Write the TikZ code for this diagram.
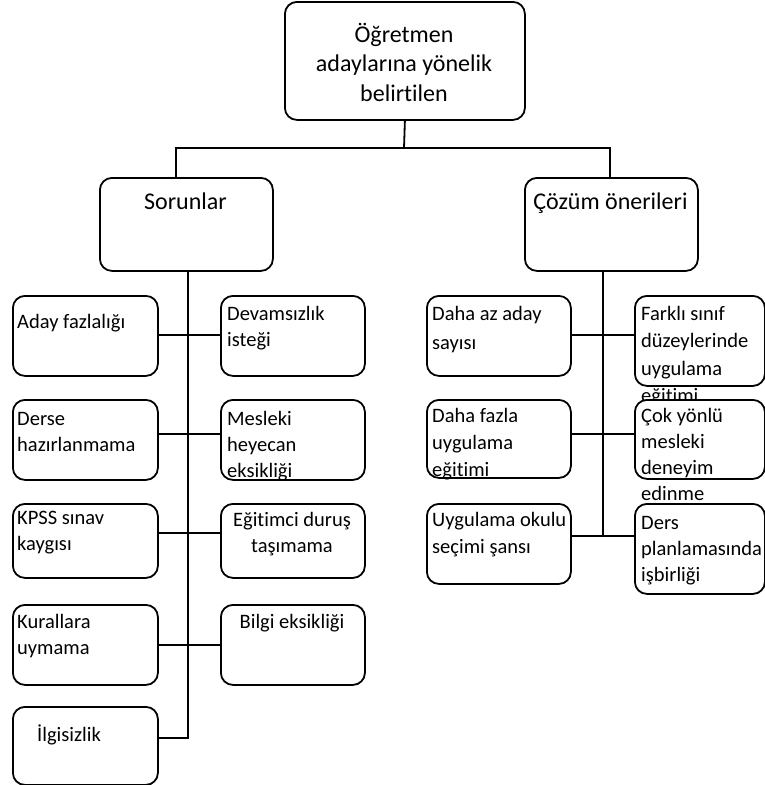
\documentclass[tikz,border=0pt]{standalone}
\usepackage{fontspec}
\setmainfont{Carlito}[Ligatures=CommonOff]

\begin{document}
\begin{tikzpicture}[x=1pt, y=-1pt,
		kutu/.style={draw, line width=1.8pt, rounded corners=12pt, fill=white, anchor=north west, inner sep=0pt},
		yazi/.style={anchor=base west, inner sep=0pt, text width=160pt, align=flush left, font=\fontsize{20.5pt}{26pt}\selectfont},
		sagyazi/.style={yazi, font=\fontsize{20.5pt}{27pt}\selectfont},
		ortayazi/.style={anchor=base, inner sep=0pt, text width=140pt, align=flush center, font=\fontsize{20.5pt}{26pt}\selectfont},
		baslik/.style={anchor=base, inner sep=0pt, text width=230pt, align=flush center, font=\fontsize{24pt}{29.5pt}\selectfont},
		cizgi/.style={line width=1.8pt}
	]
	\useasboundingbox (0,0) rectangle (765,785);

	%Ana kutu
		\node[kutu, minimum width=240pt, minimum height=118pt] (ana) at (284,1) {};
		\node[baslik] (anayazi) at (404,42) {Öğretmen\\adaylarına yönelik\\belirtilen};

	%Sorunlar ve çözüm önerileri
		\node[kutu, minimum width=173pt, minimum height=93pt] (sorun) at (99,177) {};
		\node[baslik] (sorunyazi) at (185.5,209) {Sorunlar};
		\node[kutu, minimum width=173pt, minimum height=93pt] (cozum) at (524,177) {};
		\node[baslik] (cozumyazi) at (610.5,209) {Çözüm önerileri};

	%Sorunlar
		\node[kutu, minimum width=145pt, minimum height=80pt] (aday) at (12,295) {};
		\node[yazi] (adayyazi) at (17,328) {Aday fazlalığı};
		\node[kutu, minimum width=144pt, minimum height=80pt] (devam) at (220,295) {};
		\node[yazi] (devamyazi) at (227,320) {Devamsızlık\\isteği};
		\node[kutu, minimum width=145pt, minimum height=80pt] (derse) at (12,399) {};
		\node[yazi] (derseyazi) at (17,425) {Derse\\hazırlanmama};
		\node[kutu, minimum width=144pt, minimum height=80pt] (mesleki) at (220,399) {};
		\node[yazi] (meslekiyazi) at (227,425) {Mesleki\\heyecan\\eksikliği};
		\node[kutu, minimum width=145pt, minimum height=74pt] (kpss) at (12,503) {};
		\node[yazi] (kpssyazi) at (17,524) {KPSS sınav\\kaygısı};
		\node[kutu, minimum width=144pt, minimum height=74pt] (egitimci) at (220,503) {};
		\node[ortayazi] (egitimciyazi) at (292,526) {Eğitimci duruş\\taşımama};
		\node[kutu, minimum width=145pt, minimum height=80pt] (kural) at (12,604) {};
		\node[yazi] (kuralyazi) at (17,628) {Kurallara\\uymama};
		\node[kutu, minimum width=144pt, minimum height=80pt] (bilgi) at (220,604) {};
		\node[ortayazi] (bilgiyazi) at (292,628) {Bilgi eksikliği};
		\node[kutu, minimum width=145pt, minimum height=78pt] (ilgi) at (12,706) {};
		\node[yazi] (ilgiyazi) at (37,741) {İlgisizlik};

	%Çözüm önerileri
		\node[kutu, minimum width=144pt, minimum height=80pt] (dahaaz) at (426,295) {};
		\node[sagyazi, font=\fontsize{20.5pt}{29pt}\selectfont] (dahaazyazi) at (432,320) {Daha az aday\\sayısı};
		\node[kutu, minimum width=130pt, minimum height=90pt] (farkli) at (634,295) {};
		\node[sagyazi, font=\fontsize{20.5pt}{27.5pt}\selectfont] (farkliyazi) at (641,320) {Farklı sınıf\\düzeylerinde\\uygulama\\eğitimi};
		\node[kutu, minimum width=144pt, minimum height=78pt] (dahafazla) at (426,399) {};
		\node[sagyazi] (dahafazlayazi) at (432,422) {Daha fazla\\uygulama\\eğitimi};
		\node[kutu, minimum width=130pt, minimum height=79pt] (cok) at (634,399) {};
		\node[sagyazi, font=\fontsize{20.5pt}{26pt}\selectfont] (cokyazi) at (641,422) {Çok yönlü\\mesleki\\deneyim\\edinme};
		\node[kutu, minimum width=144pt, minimum height=80pt] (uygulama) at (426,503) {};
		\node[sagyazi] (uygulamayazi) at (432,526) {Uygulama okulu\\seçimi şansı};
		\node[kutu, minimum width=130pt, minimum height=90pt] (ders) at (634,503) {};
		\node[sagyazi, font=\fontsize{20.5pt}{26pt}\selectfont] (dersyazi) at (641,529) {Ders\\planlamasında\\işbirliği};

	%Ana kutudan dallar
		\coordinate (ust) at (404,148);
		\coordinate (hl) at (176,148);
		\coordinate (hr) at (610,148);
		\draw[cizgi] (ana.south) -- (ust);
		\draw[cizgi] (sorun.north -| hl) -- (hl) -- (hr) -- (cozum.north -| hr);

	%Sorunlar gövdesi
		\coordinate (s1) at (188,335);
		\coordinate (s2) at (188,434);
		\coordinate (s3) at (188,533);
		\coordinate (s4) at (188,645);
		\coordinate (s5) at (188,738);
		\draw[cizgi] (sorun.south -| s1) -- (s5) -- (ilgi.east |- s5);
		\draw[cizgi] (aday.east |- s1) -- (devam.west |- s1);
		\draw[cizgi] (derse.east |- s2) -- (mesleki.west |- s2);
		\draw[cizgi] (kpss.east |- s3) -- (egitimci.west |- s3);
		\draw[cizgi] (kural.east |- s4) -- (bilgi.west |- s4);

	%Çözüm önerileri gövdesi
		\coordinate (c1) at (603,335);
		\coordinate (c2) at (603,434);
		\coordinate (c3) at (603,536);
		\draw[cizgi] (cozum.south -| c1) -- (c3);
		\draw[cizgi] (dahaaz.east |- c1) -- (farkli.west |- c1);
		\draw[cizgi] (dahafazla.east |- c2) -- (cok.west |- c2);
		\draw[cizgi] (uygulama.east |- c3) -- (ders.west |- c3);
\end{tikzpicture}
\end{document}
